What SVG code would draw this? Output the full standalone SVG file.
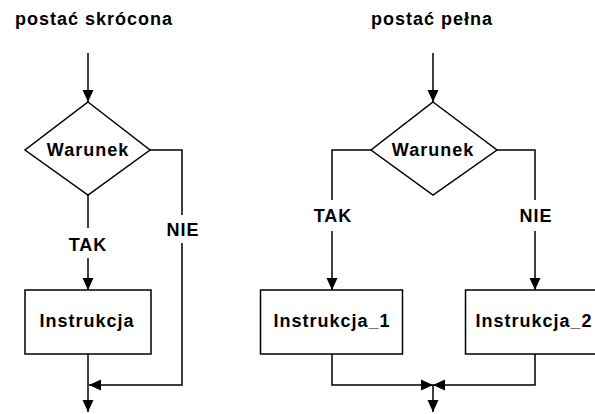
<svg xmlns="http://www.w3.org/2000/svg" width="595" height="414" viewBox="0 0 595 414">
<defs>
<style>
text{font-family:"Liberation Sans",Arial,sans-serif;font-weight:bold;font-size:18px;letter-spacing:1px;fill:#000;text-anchor:middle}
.shape{fill:#fff;stroke:#000;stroke-width:1.5}
.line{fill:none;stroke:#000;stroke-width:1.5}
</style>
<marker id="arr" markerUnits="userSpaceOnUse" markerWidth="13" markerHeight="12" refX="12" refY="6" orient="auto" viewBox="0 0 13 12">
<path d="M0,0.5 L12,6 L0,11.5 z" fill="#000"/>
</marker>
</defs>
<rect width="595" height="414" fill="#fff"/>
<g id="titles">
<text x="94" y="25">postać skrócona</text>
<text x="432" y="25">postać pełna</text>
</g>
<g id="connectors">
<line class="line" x1="88" y1="53" x2="88" y2="102" marker-end="url(#arr)"/>
<line class="line" x1="88" y1="195" x2="88" y2="228"/>
<line class="line" x1="88" y1="258" x2="88" y2="290" marker-end="url(#arr)"/>
<polyline class="line" points="150,150 182,150 182,215"/>
<polyline class="line" points="182,243 182,385 89,385" marker-end="url(#arr)"/>
<line class="line" x1="88" y1="354" x2="88" y2="412" marker-end="url(#arr)"/>
<line class="line" x1="433" y1="53" x2="433" y2="102" marker-end="url(#arr)"/>
<polyline class="line" points="371,150 332,150 332,200"/>
<line class="line" x1="332" y1="231" x2="332" y2="290" marker-end="url(#arr)"/>
<polyline class="line" points="497,150 535,150 535,200"/>
<line class="line" x1="535" y1="231" x2="535" y2="290" marker-end="url(#arr)"/>
<polyline class="line" points="332,354 332,385 433,385" marker-end="url(#arr)"/>
<polyline class="line" points="535,354 535,385 433,385" marker-end="url(#arr)"/>
<line class="line" x1="433" y1="385" x2="433" y2="412" marker-end="url(#arr)"/>
<text x="88" y="251">TAK</text>
<text x="183" y="236">NIE</text>
<text x="333" y="222">TAK</text>
<text x="536" y="222">NIE</text>
</g>
<g id="warunek1">
<polygon class="shape" points="88,102 150,150 88,195 25,150"/>
<text x="88" y="156">Warunek</text>
</g>
<g id="instrukcja">
<rect class="shape" x="25" y="290" width="126" height="64"/>
<text x="87" y="327">Instrukcja</text>
</g>
<g id="warunek2">
<polygon class="shape" points="433,102 497,150 433,195 371,150"/>
<text x="433" y="156">Warunek</text>
</g>
<g id="instrukcja1">
<rect class="shape" x="260.5" y="290" width="142" height="64"/>
<text x="332" y="327">Instrukcja_1</text>
</g>
<g id="instrukcja2">
<rect class="shape" x="465.5" y="290" width="142" height="64"/>
<text x="534" y="327">Instrukcja_2</text>
</g>
</svg>
